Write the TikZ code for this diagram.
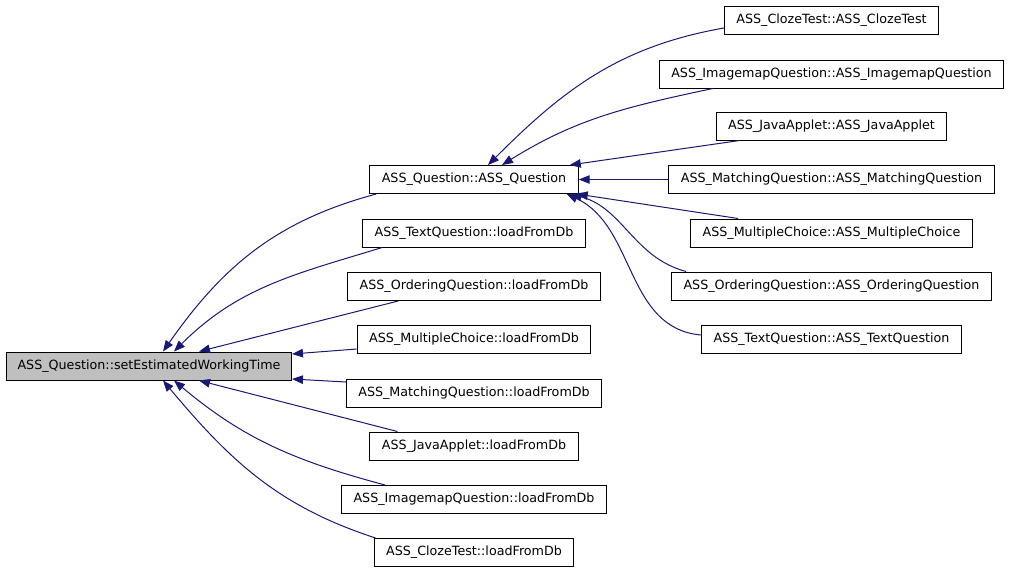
\documentclass[tikz,border=0pt]{standalone}
\usepackage{fontspec}
\setmainfont{DejaVu Sans}
\usetikzlibrary{arrows.meta}
\definecolor{edgeblue}{HTML}{191970}
\definecolor{rootgray}{HTML}{BFBFBF}

\begin{document}
\begin{tikzpicture}[x=1pt,y=-1pt,
  fn/.style={draw=black,line width=1pt,minimum height=28pt,inner xsep=12pt,inner ysep=0pt,
    font=\fontsize{12.7}{15}\selectfont},
  rootfn/.style={fn,fill=rootgray,inner xsep=11pt},
  calledge/.style={draw=edgeblue,line width=1pt,-{Triangle[length=11pt,width=8.5pt]}}]
  \useasboundingbox (0,0) rectangle (1013,573);
  % the function and its callers
  \node[rootfn] (set) at (149,366) {ASS\_Question::setEstimatedWorkingTime};
  \node[fn] (qc)     at (474,179.5) {ASS\_Question::ASS\_Question};
  \node[fn] (lText)  at (474,233)   {ASS\_TextQuestion::loadFromDb};
  \node[fn] (lOrder) at (474,286.5) {ASS\_OrderingQuestion::loadFromDb};
  \node[fn] (lMulti) at (474,339.5) {ASS\_MultipleChoice::loadFromDb};
  \node[fn] (lMatch) at (474,393)   {ASS\_MatchingQuestion::loadFromDb};
  \node[fn] (lJava)  at (474,446)   {ASS\_JavaApplet::loadFromDb};
  \node[fn] (lImage) at (474,499.5) {ASS\_ImagemapQuestion::loadFromDb};
  \node[fn] (lCloze) at (474,552.5) {ASS\_ClozeTest::loadFromDb};
  % callers of the constructor
  \node[fn] (cCloze) at (831.5,20)    {ASS\_ClozeTest::ASS\_ClozeTest};
  \node[fn] (cImage) at (831.5,74)    {ASS\_ImagemapQuestion::ASS\_ImagemapQuestion};
  \node[fn] (cJava)  at (831.5,126)   {ASS\_JavaApplet::ASS\_JavaApplet};
  \node[fn] (cMatch) at (831.5,179.5) {ASS\_MatchingQuestion::ASS\_MatchingQuestion};
  \node[fn] (cMulti) at (831.5,233)   {ASS\_MultipleChoice::ASS\_MultipleChoice};
  \node[fn] (cOrder) at (831.5,286)   {ASS\_OrderingQuestion::ASS\_OrderingQuestion};
  \node[fn] (cText)  at (831.5,339)   {ASS\_TextQuestion::ASS\_TextQuestion};

  \draw[calledge] ([xshift=7pt]qc.south west) to[out=195,in=55] ([xshift=14pt]set.north);
  \draw[calledge] ([xshift=20pt]lText.south west) to[out=197,in=45] ([xshift=25pt]set.north);
  \draw[calledge] ([xshift=51pt]lOrder.south west) -- ([xshift=50pt]set.north);
  \draw[calledge] ([yshift=-9.5pt]lMulti.west) -- ([yshift=12pt]set.east);
  \draw[calledge] ([yshift=11pt]lMatch.west) -- ([yshift=-13pt]set.east);
  \draw[calledge] ([xshift=28pt]lJava.north west) -- ([xshift=50pt]set.south);
  \draw[calledge] ([xshift=44pt]lImage.north west) to[out=165,in=-40] ([xshift=25pt]set.south);
  \draw[calledge] ([xshift=2pt]lCloze.north west) to[out=162,in=-50] ([xshift=14pt]set.south);

  \draw[calledge] ([yshift=-8pt]cCloze.west) to[out=190,in=45] ([xshift=14pt]qc.north);
  \draw[calledge] ([xshift=54pt]cImage.south west) to[out=192,in=32] ([xshift=28pt]qc.north);
  \draw[calledge] ([xshift=24pt]cJava.south west) -- ([xshift=-9pt]qc.north east);
  \draw[calledge] (cMatch.west) -- (qc.east);
  \draw[calledge] ([xshift=48pt]cMulti.north west) -- ([xshift=-2pt]qc.south east);
  \draw[calledge] ([xshift=15pt]cOrder.north west) to[out=165,in=-15] ([xshift=-8pt]qc.south east);
  \draw[calledge] ([yshift=4pt]cText.west) to[out=175,in=-25] ([xshift=-12pt]qc.south east);
\end{tikzpicture}
\end{document}
